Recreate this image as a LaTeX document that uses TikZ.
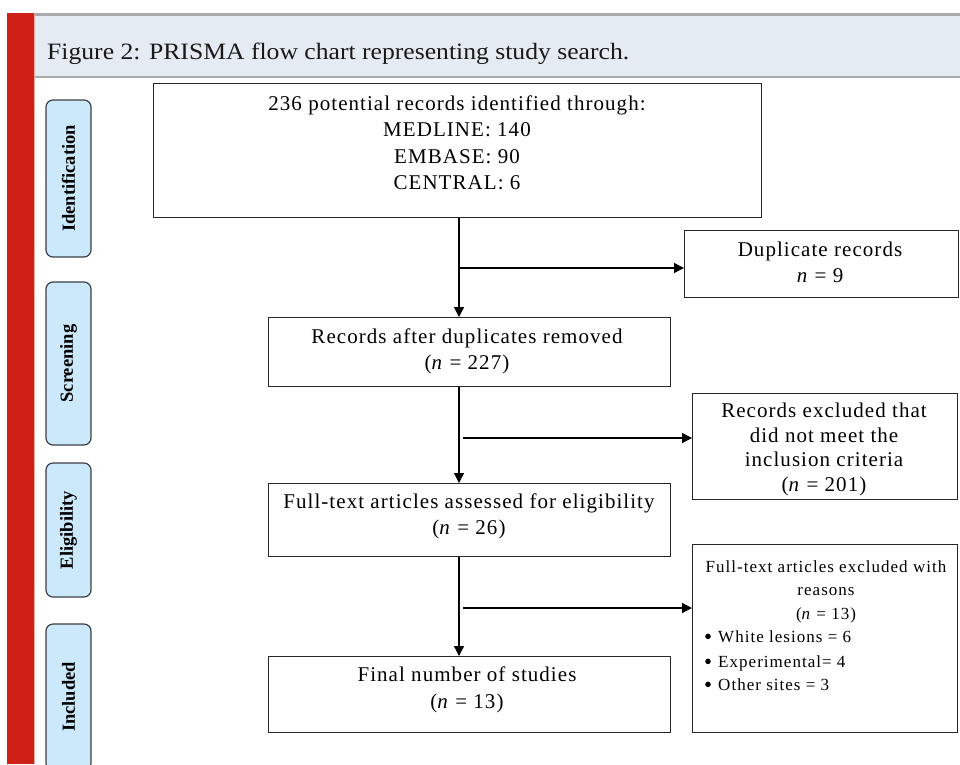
\documentclass[tikz,border=0pt]{standalone}
\usepackage{fontspec}
\usepackage{graphicx}
\newfontfamily\tnr[LetterSpace=5]{Liberation Serif}
\newfontfamily\tnrs[LetterSpace=6]{Liberation Serif}
\newfontfamily\tnrb{Liberation Serif}
\usetikzlibrary{arrows.meta,calc}
\definecolor{redbar}{RGB}{206,32,22}
\definecolor{pinkedge}{RGB}{240,170,160}
\definecolor{headbg}{RGB}{229,235,242}
\definecolor{headline}{RGB}{168,170,172}
\definecolor{sideblue}{RGB}{204,233,252}
\definecolor{sidegray}{RGB}{60,64,68}
\definecolor{boxgray}{RGB}{40,40,40}
\newcommand{\bigbul}{\raisebox{-2.2pt}{\scalebox{1.35}{\textbullet}}}
\begin{document}
\begin{tikzpicture}[x=1pt,y=-1pt,
  box/.style={draw=boxgray, line width=1.3pt, inner sep=0pt, anchor=north west},
  maintxt/.style={font=\tnr\fontsize{21}{26.5}\selectfont, align=center, inner sep=0pt, text=black},
  smalltxt/.style={font=\tnrs\fontsize{17}{23.5}\selectfont, inner sep=0pt, text=black},
  sidelab/.style={draw=sidegray, fill=sideblue, rounded corners=7pt, line width=1.2pt, rotate=90, minimum height=45pt, inner sep=0pt, font=\tnrb\bfseries\fontsize{18.5}{20}\selectfont},
  conn/.style={line width=1.3pt, -{Triangle[length=10pt,width=10pt]}}]
\useasboundingbox (0,0) rectangle (960,764);
\fill[white] (0,0) rectangle (960,764);
% frame decorations
\fill[redbar] (7,13) rectangle (34,764);
\draw[pinkedge, line width=1pt] (34.5,13) -- (34.5,764);
\fill[headbg] (35,13) rectangle (960,78);
\fill[headline] (35,13) rectangle (960,15.5);
\fill[headline] (35,75.5) rectangle (960,78);
\node[anchor=base west, inner sep=0pt, text=black!90, font=\tnrb] (title) at (47,59) {\resizebox{582pt}{16.5pt}{Figure 2: PRISMA flow chart representing study search.}};
% side labels
\node[sidelab, minimum width=157pt] (sid) at (68.5,178.5) {Identification};
\node[sidelab, minimum width=163pt] (sscr) at (68.5,363.5) {Screening};
\node[sidelab, minimum width=134pt] (selig) at (68.5,530) {Eligibility};
\node[sidelab, minimum width=146pt] (sinc) at (68.5,697) {Included};
% boxes
\node[box, minimum width=608pt, minimum height=134pt] (b1) at (153,83) {};
\node[box, minimum width=274pt, minimum height=67pt] (dup) at (684,230) {};
\node[box, minimum width=402pt, minimum height=69pt] (b2) at (268,317) {};
\node[box, minimum width=265pt, minimum height=106pt] (excl) at (692,393) {};
\node[box, minimum width=402pt, minimum height=73pt] (b3) at (268,483) {};
\node[box, minimum width=265pt, minimum height=188pt] (rsn) at (692,544) {};
\node[box, minimum width=402pt, minimum height=76pt] (b4) at (268,656) {};
% texts
\node[maintxt] (t1) at (457,142.5) {236 potential records identified through:\\MEDLINE: 140\\EMBASE: 90\\CENTRAL: 6};
\node[maintxt] (t2) at (820,262.5) {Duplicate records\\\textit{n} = 9};
\node[maintxt] (t3) at (467,351.5) {Records after duplicates removed\\(\textit{n} = 227)};
\node[maintxt, font=\tnr\fontsize{21}{24.5}\selectfont] (t4) at (824,449.5) {Records excluded that\\did not meet the\\inclusion criteria\\(\textit{n} = 201)};
\node[maintxt] (t5) at (469,516.5) {Full-text articles assessed for eligibility\\(\textit{n} = 26)};
\node[maintxt] (t6) at (467,690) {Final number of studies\\(\textit{n} = 13)};
\node[smalltxt, align=center] (r0) at (826,591.5) {Full-text articles excluded with\\reasons\\(\textit{n} = 13)};
\node[smalltxt, anchor=base west] (r1) at (704,642) {\bigbul\hspace{6pt}White lesions = 6};
\node[smalltxt, anchor=base west] (r2) at (704,667) {\bigbul\hspace{6pt}Experimental= 4};
\node[smalltxt, anchor=base west] (r3) at (704,690) {\bigbul\hspace{6pt}Other sites = 3};
% connectors
\coordinate (sp) at (459,0);
\coordinate (j1) at (459,268);
\coordinate (j2) at (463,438);
\coordinate (j3) at (463,608);
\draw[conn] (b1.south -| sp) -- (b2.north -| sp);
\draw[conn] (j1) -- (j1 -| dup.west);
\draw[conn] (b2.south -| sp) -- (b3.north -| sp);
\draw[conn] (j2) -- (j2 -| excl.west);
\draw[conn] (b3.south -| sp) -- (b4.north -| sp);
\draw[conn] (j3) -- (j3 -| rsn.west);
\end{tikzpicture}
\end{document}
